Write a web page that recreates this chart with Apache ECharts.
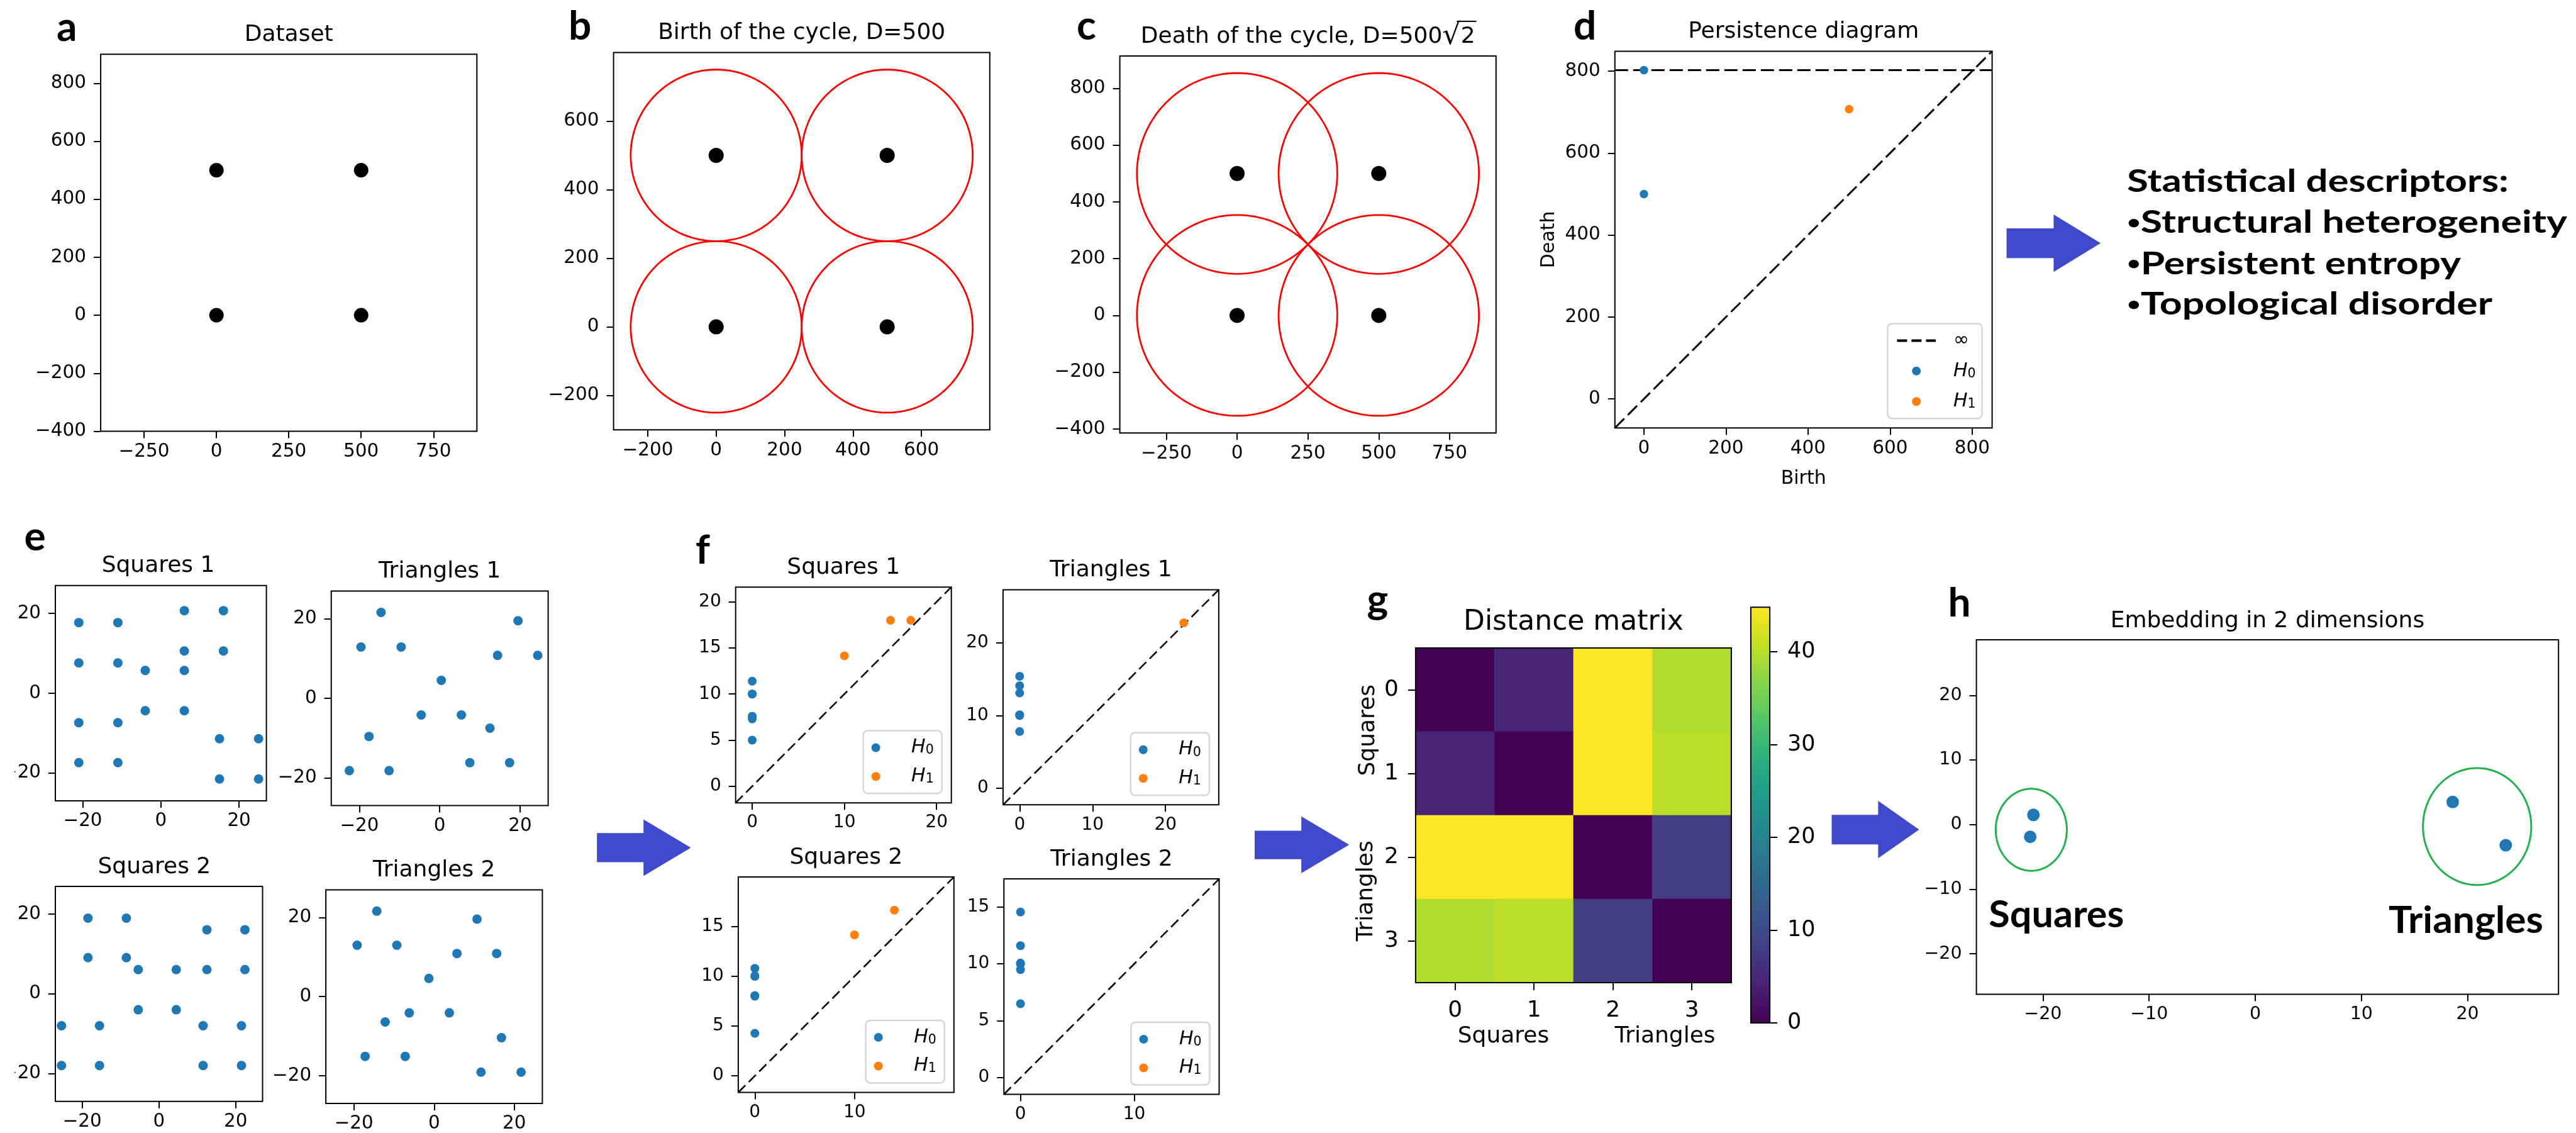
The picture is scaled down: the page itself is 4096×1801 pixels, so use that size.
<!DOCTYPE html>
<html><head><meta charset="utf-8">
<script src="https://cdn.jsdelivr.net/npm/echarts@6/dist/echarts.min.js"></script>
<style>html,body{margin:0;padding:0;background:#fff}#c{width:4096px;height:1801px}</style>
</head><body><div id="c"></div>
<script>
// ================= DATA =================
// a-c: toy dataset (4 points) and ball radii
const datasetX = [0, 500, 0, 500];
const datasetY = [0, 0, 500, 500];
const birthRadius = 250;      // D = 500
const deathRadius = 353.55;   // D = 500*sqrt(2)

// d: persistence diagram of the toy dataset
const pdH0 = [[0, 500], [0, 802.5]];   // second point is the infinite class, drawn on the ∞ line
const pdH1 = [[500, 707.1]];
const pdInfLevel = 802.5;

// e: point clouds
const squares1 = [[-21,17.7],[-11,17.7],[6,20.7],[16,20.7],[-21,7.6],[-11,7.6],[6,10.6],[16,10.6],[-4,5.7],[6,5.7],
  [-21,-7.4],[-11,-7.4],[-4,-4.4],[6,-4.4],[-21,-17.4],[-11,-17.4],[15,-11.4],[25,-11.4],[15,-21.5],[25,-21.5]];
const triangles1 = [[-14.6,21.6],[-19.6,12.9],[-9.6,12.9],[19.5,19.5],[14.4,10.8],[24.4,10.8],[0.4,4.5],[-4.6,-4.2],
  [5.4,-4.2],[12.5,-7.5],[-17.6,-9.6],[-22.5,-18.2],[-12.6,-18.2],[7.5,-16.2],[17.4,-16.2]];
const squares2 = [[-18.5,19],[-8.5,19],[-18.5,9.1],[-8.5,9.1],[-5.4,6.1],[4.5,6.1],[-5.4,-4],[4.5,-4],[12.5,16.1],[22.4,16.1],
  [12.5,6.1],[22.4,6.1],[-25.4,-8],[-15.5,-8],[-25.4,-18],[-15.5,-18],[11.5,-8],[21.5,-8],[11.5,-18],[21.5,-18]];
const triangles2 = [[-14.3,21.6],[-19.2,13],[-9.3,13],[10.7,19.6],[5.7,10.9],[15.6,10.9],[-1.3,4.6],[-6.2,-4.1],
  [3.8,-4.1],[-12.2,-6.4],[16.8,-10.4],[-17.2,-15.1],[-7.2,-15.1],[11.7,-19.1],[21.7,-19.1]];

// f: persistence diagrams (birth, death)
const sq1H0 = [[0,5.0],[0,7.3],[0,7.6],[0,10.0],[0,10.0],[0,11.4]];
const sq1H1 = [[10,14.15],[15,18.0],[17.2,18.0]];
const tr1H0 = [[0,7.8],[0,10.0],[0,10.1],[0,13.1],[0,14.1],[0,15.4]];
const tr1H1 = [[22.5,22.75]];
const sq2H0 = [[0,4.27],[0,8.0],[0,8.07],[0,10.0],[0,10.06],[0,10.8]];
const sq2H1 = [[10,14.17],[14.0,16.65]];
const tr2H0 = [[0,6.5],[0,9.5],[0,10.0],[0,10.07],[0,11.6],[0,14.55]];
const tr2H1 = [];

// g: distance matrix
const matrixLabels = ['0','1','2','3'];
const distanceMatrix = [
  [0, 4.5, 44.8, 39.6],
  [4.5, 0, 44.6, 40.2],
  [44.8, 44.6, 0, 8.0],
  [39.6, 40.2, 8.0, 0]
];
const colorbarMax = 44.8;
const colorbarTicks = [0, 10, 20, 30, 40];

// h: 2D embedding
const embedding = [[-20.9,1.5],[-21.2,-1.9],[18.6,3.5],[23.6,-3.2]];
const clusterOutlines = [[-21.1,-0.8,3.35,6.35],[20.9,-0.3,5.1,9.05]]; // cx, cy, rx, ry

const descriptorTitle = 'Statistical descriptors:';
const descriptorItems = ['Structural heterogeneity', 'Persistent entropy', 'Topological disorder'];

// ================= LAYOUT / STYLE =================
const FONT = 'DejaVu Sans';
const BOLD = 'Lato';
const BLUE = '#1f77b4', ORANGE = '#ff7f0e', ARROW = '#4048CC';
const viridis = ['#440154','#482173','#433e85','#38588c','#2d708e','#25858e','#1e9b8a','#2ab07f','#52c569','#86d549','#c2df23','#fde725'];

const R = {
  a:[160.1,86.2,598.2,599.3], b:[975.6,83.4,598.2,599.8], c:[1780.6,88.9,598.2,599.3], d:[2567.8,81.4,599.8,598.8],
  eS1:[79.5,930.7,344.1,342.4], eT1:[526.7,939.4,344.9,341.2], eS2:[73.2,1408.9,344.3,341.8], eT2:[518.1,1414.4,344.3,342.4],
  fS1:[1169.7,933.2,343,343], fT1:[1594.9,937.5,343,341.8], fS2:[1173.9,1394.1,342.9,342.4], fT2:[1596.3,1397.1,342.2,342.4],
  g:[2250.9,1030.1,502,531.8], cb:[2783.9,965.3,30.2,660.8], h:[3142.6,1017.1,925.6,563.3]
};

const mctx = document.createElement('canvas').getContext('2d');
function measure(str, fs, family, weight){ mctx.font = (weight||'normal') + ' ' + fs + 'px "' + family + '"'; return mctx.measureText(str).width; }

function fmt(v){ return v < 0 ? '\u2212' + Math.abs(v) : String(v); }
const grids=[], xAxes=[], yAxes=[], series=[], graphics=[], legends=[];

function addGrid(r, z){
  grids.push({left:r[0], top:r[1], width:r[2], height:r[3], show:true, borderColor:'#000', borderWidth:2,
    backgroundColor:'transparent', containLabel:false, z: z==null?10:z});
  return grids.length-1;
}
function valAxis(dim, gi, range, ticks, fs, extra){
  const ax = {type:'value', gridIndex:gi, min:range[0], max:range[1], splitLine:{show:false},
    axisLine:{show:false, onZero:false},
    axisTick:{show:true, length:11, lineStyle:{color:'#000', width:2}, customValues:ticks},
    axisLabel:{customValues:ticks, formatter:fmt, fontSize:fs, fontFamily:FONT, color:'#000', margin: dim==='x'?18:23}};
  Object.assign(ax, extra||{});
  const arr = dim==='x'?xAxes:yAxes; arr.push(ax); return arr.length-1;
}
function scatter(xi, yi, data, color, size, name){
  series.push({type:'scatter', name:name, xAxisIndex:xi, yAxisIndex:yi, data:data, symbol:'circle', symbolSize:size,
    itemStyle:{color:color, opacity:1}, silent:true, z:3});
}
function dashLine(xi, yi, data, name, width, dash){
  series.push({type:'line', name:name, xAxisIndex:xi, yAxisIndex:yi, data:data, symbol:'none', silent:true, z:2,
    itemStyle:{color:'#000', opacity:0}, lineStyle:{color:'#000', width:width, type:dash, opacity:1}});
}
function ellipseSeries(xi, yi, data, color, width){
  series.push({type:'custom', xAxisIndex:xi, yAxisIndex:yi, data:data, silent:true, clip:true, z:2,
    encode:{x:0, y:1},
    renderItem:function(params, api){
      const cx = api.value(0), cy = api.value(1), rx = api.value(2), ry = api.value(3);
      const pts = [];
      for (let k = 0; k <= 180; k++) {
        const t = k / 180 * Math.PI * 2;
        pts.push(api.coord([cx + rx*Math.cos(t), cy + ry*Math.sin(t)]));
      }
      return {type:'polyline', shape:{points:pts}, style:{fill:null, stroke:color, lineWidth:width}};
    }});
}
function text(str, x, baseline, fs, opts){
  opts = opts || {};
  const el = {type:'text', x:x, y:baseline - 0.35*fs, rotation:opts.rotation||0, z:100,
    style:{text:str, fontSize:fs, fontFamily:opts.family||FONT, fontWeight:opts.weight||'normal',
      fill:'#000', align:opts.align||'center', textAlign:opts.align||'center', verticalAlign:'middle', textVerticalAlign:'middle'}};
  if (opts.rich) el.style.rich = opts.rich;
  if (opts.scaleX) el.scaleX = opts.scaleX;
  graphics.push(el);
}
function fitBold(str, x, baseline, fs, target){
  const w = measure(str, fs, BOLD, 'bold');
  text(str, x, baseline, fs, {family:BOLD, weight:'bold', align:'left', scaleX: target / w});
}
function titleFor(r, str, fs){ text(str, r[0] + r[2]/2, r[1] - 18, fs||36); }
function arrow(x0, x1, ys0, ys1, yh0, yh1, xt, yt){
  graphics.push({type:'polygon', z:100, shape:{points:[[x0,ys0],[x1,ys0],[x1,yh0],[xt,yt],[x1,yh1],[x1,ys1],[x0,ys1]]},
    style:{fill:ARROW}});
}
function pdLegend(r, pads, gap, itemW, padX){
  legends.push({show:true, orient:'vertical', right: 4096 - (r[0]+r[2]-15), bottom: 1801 - (r[1]+r[3]-15),
    data:['H0','H1'], selectedMode:false, itemWidth:itemW, itemHeight:14, itemGap:gap, padding:pads,
    backgroundColor:'rgba(255,255,255,0.8)', borderColor:'#d6d6d6', borderWidth:2.5, borderRadius:7,
    icon:'circle',
    formatter:function(n){ return '{h|H}{s|' + n.slice(1) + '}'; },
    textStyle:{color:'#000', fontFamily:FONT, fontSize:30, rich:{
      h:{fontSize:30, fontStyle:'italic', fontFamily:FONT, lineHeight:30, padding:[0,0,0,padX]},
      s:{fontSize:20.5, fontFamily:FONT, lineHeight:12, verticalAlign:'bottom'}}}});
}

// ---------- a ----------
(function(){
  const g = addGrid(R.a);
  const x = valAxis('x', g, [-400,900], [-250,0,250,500,750], 29.5);
  const y = valAxis('y', g, [-400,900], [-400,-200,0,200,400,600,800], 29.5);
  scatter(x, y, datasetX.map((v,i)=>[v, datasetY[i]]), '#000', 23);
  titleFor(R.a, 'Dataset');
})();
// ---------- b ----------
(function(){
  const g = addGrid(R.b);
  const x = valAxis('x', g, [-300,800], [-200,0,200,400,600], 29.5);
  const y = valAxis('y', g, [-300,800], [-200,0,200,400,600], 29.5);
  ellipseSeries(x, y, datasetX.map((v,i)=>[v, datasetY[i], birthRadius, birthRadius]), '#ff0000', 2.8);
  scatter(x, y, datasetX.map((v,i)=>[v, datasetY[i]]), '#000', 24);
  titleFor(R.b, 'Birth of the cycle, D=500');
})();
// ---------- c ----------
(function(){
  const g = addGrid(R.c);
  const x = valAxis('x', g, [-413.9,913.9], [-250,0,250,500,750], 29.5);
  const y = valAxis('y', g, [-413.9,913.9], [-400,-200,0,200,400,600,800], 29.5);
  ellipseSeries(x, y, datasetX.map((v,i)=>[v, datasetY[i], deathRadius, deathRadius]), '#ff0000', 2.8);
  scatter(x, y, datasetX.map((v,i)=>[v, datasetY[i]]), '#000', 24);
  const fs = 36, fsr = 46;
  const p1 = 'Death of the cycle, D=500';
  const w1 = measure(p1, fs, FONT), w2 = measure('2', fs, FONT), wr = measure('\u221A', fsr, FONT);
  const total = w1 + wr + w2, cx = R.c[0] + R.c[2]/2, base = R.c[1] - 18, left = cx - total/2;
  graphics.push({type:'text', x:left, y:base - 0.35*fs, z:100,
    style:{text:p1 + '{r|\u221A}2', fontSize:fs, fontFamily:FONT, fill:'#000', align:'left', textAlign:'left',
      verticalAlign:'middle', textVerticalAlign:'middle', rich:{r:{fontSize:fsr, fontFamily:FONT}}}});
  graphics.push({type:'line', z:100, shape:{x1:left + w1 + wr*0.78, y1:base - 37, x2:left + total + 2, y2:base - 37},
    style:{stroke:'#000', lineWidth:2}});
})();
// ---------- d ----------
(function(){
  const g = addGrid(R.d);
  const all = pdH0.concat(pdH1).flat().filter(v => v !== pdInfLevel);
  const lo = Math.min(...all), hi = Math.max(...all), buf = (hi - lo)/5;
  const rng = [lo - buf/2, hi + buf];
  const ticks = [0,200,400,600,800];
  const x = valAxis('x', g, rng, ticks, 29.5, {name:'Birth', nameLocation:'middle', nameGap:66,
    nameTextStyle:{fontSize:30, fontFamily:FONT, color:'#000'}});
  const y = valAxis('y', g, rng, ticks, 29.5, {name:'Death', nameLocation:'middle', nameGap:90,
    nameTextStyle:{fontSize:30, fontFamily:FONT, color:'#000'}});
  dashLine(x, y, [[rng[0], rng[0]], [rng[1], rng[1]]], 'diag', 3, [21, 8]);
  dashLine(x, y, [[rng[0], pdInfLevel], [rng[1], pdInfLevel]], '\u221E', 3, [21, 8]);
  scatter(x, y, pdH0, BLUE, 13.5, 'H0');
  scatter(x, y, pdH1, ORANGE, 13.5, 'H1');
  titleFor(R.d, 'Persistence diagram');
  legends.push({show:true, orient:'vertical', right: 4096 - (R.d[0]+R.d[2]-16), bottom: 1801 - (R.d[1]+R.d[3]-15),
    data:[{name:'\u221E', itemStyle:{opacity:0}}, 'H0', 'H1'], selectedMode:false, itemWidth:61.6, itemHeight:14, itemGap:18.4,
    padding:[12,10,12,13],
    backgroundColor:'rgba(255,255,255,0.8)', borderColor:'#d6d6d6', borderWidth:2.5, borderRadius:7,
    lineStyle:{width:4, type:[16,7], color:'#000'},
    formatter:function(n){ return n === '\u221E' ? '{n|\u221E}' : '{h|H}{s|' + n.slice(1) + '}'; },
    textStyle:{color:'#000', fontFamily:FONT, fontSize:30, rich:{
      n:{fontSize:30, fontFamily:FONT, lineHeight:30, padding:[0,0,0,23]},
      h:{fontSize:30, fontStyle:'italic', fontFamily:FONT, lineHeight:30, padding:[0,0,0,23]},
      s:{fontSize:20.5, fontFamily:FONT, lineHeight:12, verticalAlign:'bottom'}}}});
})();
// ---------- e ----------
[[R.eS1, squares1, 'Squares 1'], [R.eT1, triangles1, 'Triangles 1'], [R.eS2, squares2, 'Squares 2'], [R.eT2, triangles2, 'Triangles 2']]
.forEach(function(p){
  const g = addGrid(p[0]);
  const x = valAxis('x', g, [-27,27], [-20,0,20], 29.4);
  const y = valAxis('y', g, [-27,27], [-20,0,20], 29.4);
  scatter(x, y, p[1], BLUE, 15);
  titleFor(p[0], p[2]);
});
// the reference figure is cropped at its left edge through the e-panel tick labels
graphics.push({type:'rect', z:200, shape:{x:0, y:880, width:23.3, height:921}, style:{fill:'#fff'}});
// ---------- f ----------
[[R.fS1, sq1H0, sq1H1, 'Squares 1', [0,10,20], [0,5,10,15,20]],
 [R.fT1, tr1H0, tr1H1, 'Triangles 1', [0,10,20], [0,10,20]],
 [R.fS2, sq2H0, sq2H1, 'Squares 2', [0,10], [0,5,10,15]],
 [R.fT2, tr2H0, tr2H1, 'Triangles 2', [0,10], [0,5,10,15]]]
.forEach(function(p){
  const g = addGrid(p[0]);
  const all = p[1].concat(p[2]).flat();
  const lo = Math.min(...all), hi = Math.max(...all), buf = (hi - lo)/5;
  const rng = [lo - buf/2, hi + buf];
  const x = valAxis('x', g, rng, p[4], 28);
  const y = valAxis('y', g, rng, p[5], 28);
  dashLine(x, y, [[rng[0], rng[0]], [rng[1], rng[1]]], 'diag', 2.6, [16, 7.5]);
  scatter(x, y, p[1], BLUE, 14, 'H0');
  scatter(x, y, p[2], ORANGE, 14, 'H1');
  titleFor(p[0], p[3]);
  pdLegend(p[0], [12,13,12,13], 15.6, 61, 21);
});
// ---------- g ----------
(function(){
  const g = addGrid(R.g);
  const catAx = (extra) => Object.assign({type:'category', gridIndex:g, data:matrixLabels,
    axisLine:{show:false, onZero:false}, splitLine:{show:false},
    axisTick:{show:true, alignWithLabel:true, length:12, lineStyle:{color:'#000', width:2}},
    axisLabel:{fontSize:36, fontFamily:FONT, color:'#000', margin:27}}, extra);
  xAxes.push(catAx({})); const x = xAxes.length-1;
  yAxes.push(catAx({inverse:true})); const y = yAxes.length-1;
  const cells = [];
  distanceMatrix.forEach((row, i) => row.forEach((v, j) => cells.push([j, i, v])));
  series.push({type:'heatmap', xAxisIndex:x, yAxisIndex:y, data:cells, silent:true, z:2,
    itemStyle:{borderWidth:0}, emphasis:{disabled:true}});
  window.__heatIdx = series.length-1;
  text('Distance matrix', R.g[0] + R.g[2]/2, 1005.4, 44);
  text('Squares', 2390.5, 1660.5, 36);
  text('Triangles', 2647.5, 1660.5, 36);
  text('Squares', 2175.6 + 0.35*36, 1160.8, 36, {rotation:Math.PI/2});
  graphics[graphics.length-1].x = 2175.6; graphics[graphics.length-1].y = 1160.8;
  text('Triangles', 2172.9, 1416.3, 36, {rotation:Math.PI/2});
  graphics[graphics.length-1].x = 2172.9; graphics[graphics.length-1].y = 1416.3;
  const cg = addGrid(R.cb, 20);
  xAxes.push({type:'value', gridIndex:cg, show:false, min:0, max:1});
  yAxes.push({type:'value', gridIndex:cg, position:'right', min:0, max:colorbarMax, splitLine:{show:false},
    axisLine:{show:false, onZero:false},
    axisTick:{show:true, length:12, lineStyle:{color:'#000', width:2}, customValues:colorbarTicks},
    axisLabel:{customValues:colorbarTicks, fontSize:35, fontFamily:FONT, color:'#000', margin:28}});
})();
// ---------- h ----------
(function(){
  const g = addGrid(R.h);
  const x = valAxis('x', g, [-26.27,28.57], [-20,-10,0,10,20], 28.5);
  const y = valAxis('y', g, [-26.26,28.6], [-20,-10,0,10,20], 28.5);
  ellipseSeries(x, y, clusterOutlines, '#22b14c', 3);
  scatter(x, y, embedding, BLUE, 20);
  text('Embedding in 2 dimensions', R.h[0] + R.h[2]/2, 1000.4, 36);
  fitBold('Squares', 3162.3, 1475.4, 60, 215);
  fitBold('Triangles', 3798, 1484.9, 60, 246);
})();

// ---------- panel letters, descriptors, arrows ----------
[['a',90,66.7],['b',904,64.3],['c',1712,64.3],['d',2502,64.3],['e',38.4,877],['f',1106,897.4],['g',2173.6,977],['h',3097.6,981.7]]
  .forEach(l => text(l[0], l[1], l[2], 64, {family:BOLD, weight:'bold', align:'left'}));
fitBold(descriptorTitle, 3382, 306.8, 50, 607);
(function(){
  const bfs = 30, fs = 50, bases = [371.4, 437, 501.4], targets = [700, 531, 581];
  descriptorItems.forEach(function(s, i){
    const w = measure('\u2022', bfs, BOLD, 'bold') + measure(s, fs, BOLD, 'bold');
    text('{b|\u2022}' + s, 3382, bases[i], fs, {family:BOLD, weight:'bold', align:'left', scaleX: targets[i]/w,
      rich:{b:{fontSize:bfs, fontFamily:BOLD, fontWeight:'bold'}}});
  });
})();
arrow(3190.6, 3265.4, 363, 410.3, 341, 432.3, 3340.1, 386.6);
arrow(949.2, 1023.2, 1324.2, 1370.6, 1302.5, 1392.6, 1098.5, 1347.5);
arrow(1995, 2069.2, 1320.6, 1365.7, 1297.8, 1387.9, 2145.3, 1342.8);
arrow(2912.5, 2986.4, 1295.3, 1342.3, 1273.1, 1364.3, 3051.5, 1318.7);

const chart = echarts.init(document.getElementById('c'), null, {renderer:'canvas', width:4096, height:1801});
chart.setOption({
  animation:false, backgroundColor:'#fff',
  textStyle:{fontFamily:FONT},
  grid:grids, xAxis:xAxes, yAxis:yAxes, series:series, legend:legends,
  visualMap:[{type:'continuous', seriesIndex:window.__heatIdx, min:0, max:colorbarMax, calculable:false,
    orient:'vertical', left:R.cb[0], top:R.cb[1], itemWidth:R.cb[2], itemHeight:R.cb[3], padding:0,
    showLabel:false, hoverLink:false, inRange:{color:viridis}}],
  graphic:graphics
});
</script></body></html>
